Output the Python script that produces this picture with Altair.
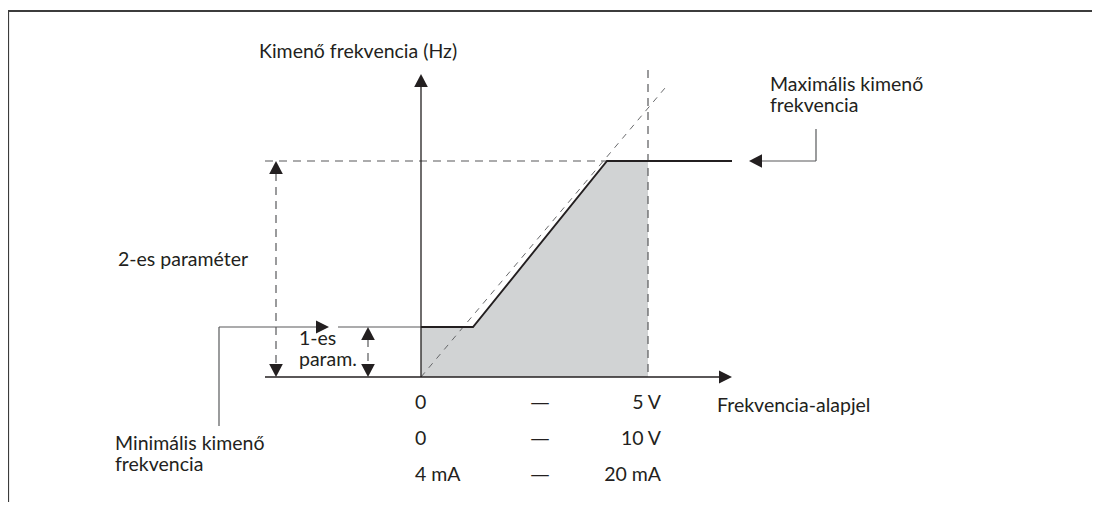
import altair as alt
import pandas as pd

# ---- diagram geometry (diagram units == screen pixels of the reference) ----
W, H = 1084, 494
X_DOM = [8, 8 + W]
Y_DOM = [8, 8 + H]

# characteristic curve: min frequency plateau -> ramp -> max frequency plateau
curve_x = [421, 473, 607, 732]
curve_y = [327, 327, 161, 161]

# grey shaded operating area (upper edge), baseline at the x axis
area_x = [421, 473, 607, 648]
area_y = [327, 327, 161, 161]
area_base = 377

# coordinate axes (solid, dark)
axis_x1 = [421, 265]
axis_y1 = [377, 377]
axis_x2 = [421, 720]
axis_y2 = [86, 377]

# frame
frame_x1 = [7, 8]
frame_y1 = [11, 11]
frame_x2 = [1100, 8]
frame_y2 = [11, 509]

# grey solid leader lines
lead_x1 = [338, 219, 219, 816, 816]
lead_y1 = [327, 426, 327, 129, 161]
lead_x2 = [421, 219, 317, 816, 761]
lead_y2 = [327, 327, 327, 161, 161]

# dashed helper lines
dash_x1 = [265, 648, 276, 368]
dash_y1 = [161, 70, 173, 339]
dash_x2 = [607, 648, 276, 368]
dash_y2 = [161, 377, 365, 365]

# thin dashed extrapolated ramp
diag_x1 = [421]
diag_y1 = [377]
diag_x2 = [665]
diag_y2 = [88]

# arrow heads (tip positions)
arrow_up_x = [421, 276, 368]
arrow_up_y = [74, 161, 327]
arrow_down_x = [276, 368]
arrow_down_y = [377, 377]
arrow_right_x = [732, 329]
arrow_right_y = [377, 327]
arrow_left_x = [749]
arrow_left_y = [161]

# texts
lbl_text = ["Kimenő frekvencia (Hz)", "Maximális kimenő", "frekvencia",
            "2-es paraméter", "1-es", "param.", "Minimális kimenő", "frekvencia",
            "Frekvencia-alapjel"]
lbl_x = [259, 770, 770, 118, 299, 299, 115, 115, 717]
lbl_y = [52, 85, 106, 260, 339, 360, 444, 465, 406]

tbl_left = ["0", "0", "4 mA"]
tbl_mid = ["—", "—", "—"]
tbl_right = ["5 V", "10 V", "20 mA"]
tbl_y = [403, 439, 475]
tbl_left_x = 415
tbl_mid_x = 540
tbl_right_x = 661

DARK = "#231f20"
GREY = "#58595b"
FONT = "Lato"
FS = 19.5

xs = alt.Scale(domain=X_DOM, nice=False, zero=False)
ys = alt.Scale(domain=Y_DOM, nice=False, zero=False, reverse=True)


def X(f="x"):
    return alt.X(f"{f}:Q", scale=xs, axis=None)


def Y(f="y"):
    return alt.Y(f"{f}:Q", scale=ys, axis=None)


def segs(x1, y1, x2, y2):
    return pd.DataFrame({"x": x1, "y": y1, "x2": x2, "y2": y2})


def rules(df, **kw):
    return alt.Chart(df).mark_rule(**kw).encode(
        x=X("x"), y=Y("y"), x2="x2:Q", y2="y2:Q")


area_df = pd.DataFrame({"x": area_x, "y": area_y, "b": [area_base] * len(area_x)})
area = alt.Chart(area_df).mark_area(color="#d1d3d4", opacity=1, interpolate="linear").encode(
    x=X("x"), y=Y("y"), y2="b:Q")

curve_df = pd.DataFrame({"x": curve_x, "y": curve_y, "o": range(len(curve_x))})
curve = alt.Chart(curve_df).mark_line(color=DARK, strokeWidth=1.9).encode(
    x=X("x"), y=Y("y"), order="o:Q")

frame = rules(segs(frame_x1, frame_y1, frame_x2, frame_y2), color="#3c3c3c", strokeWidth=2.2)
axes = rules(segs(axis_x1, axis_y1, axis_x2, axis_y2), color=DARK, strokeWidth=1.3)
leads = rules(segs(lead_x1, lead_y1, lead_x2, lead_y2), color=GREY, strokeWidth=1.2)
dashes = rules(segs(dash_x1, dash_y1, dash_x2, dash_y2), color=GREY, strokeWidth=1.2,
               strokeDash=[8, 6])
diag = rules(segs(diag_x1, diag_y1, diag_x2, diag_y2), color=GREY, strokeWidth=0.9,
             strokeDash=[6, 6])

UP = "M0,0L-1.05,2L1.05,2Z"
DOWN = "M0,0L-1.05,-2L1.05,-2Z"
RIGHT = "M0,0L-2,-1L-2,1Z"
LEFT = "M0,0L2,-1.05L2,1.05Z"


def heads(xx, yy, shape):
    df = pd.DataFrame({"x": xx, "y": yy})
    return alt.Chart(df).mark_point(shape=shape, filled=True, color=DARK, opacity=1,
                                    size=169, strokeWidth=0).encode(x=X("x"), y=Y("y"))


arrows = [heads(arrow_up_x, arrow_up_y, UP), heads(arrow_down_x, arrow_down_y, DOWN),
          heads(arrow_right_x, arrow_right_y, RIGHT), heads(arrow_left_x, arrow_left_y, LEFT)]

lbl_df = pd.DataFrame({"t": lbl_text, "x": lbl_x, "y": lbl_y})
labels = alt.Chart(lbl_df).mark_text(align="left", baseline="middle", font=FONT,
                                     fontSize=FS, color=DARK).encode(
    x=X("x"), y=Y("y"), text="t:N")


def col(texts, xpos, align, font=FONT):
    df = pd.DataFrame({"t": texts, "x": [xpos] * len(texts), "y": tbl_y})
    return alt.Chart(df).mark_text(align=align, baseline="middle", font=font,
                                   fontSize=FS, color=DARK).encode(
        x=X("x"), y=Y("y"), text="t:N")


table = [col(tbl_left, tbl_left_x, "left"), col(tbl_mid, tbl_mid_x, "center", "DejaVu Sans"),
         col(tbl_right, tbl_right_x, "right")]

chart = alt.layer(area, frame, dashes, diag, leads, axes, curve, *arrows, labels, *table).properties(
    width=W, height=H, padding=0, autosize=alt.AutoSizeParams(type="none"),
    background="white"
).configure_view(stroke=None)

chart.save("out.html", embed_options={"renderer": "svg", "actions": False})
